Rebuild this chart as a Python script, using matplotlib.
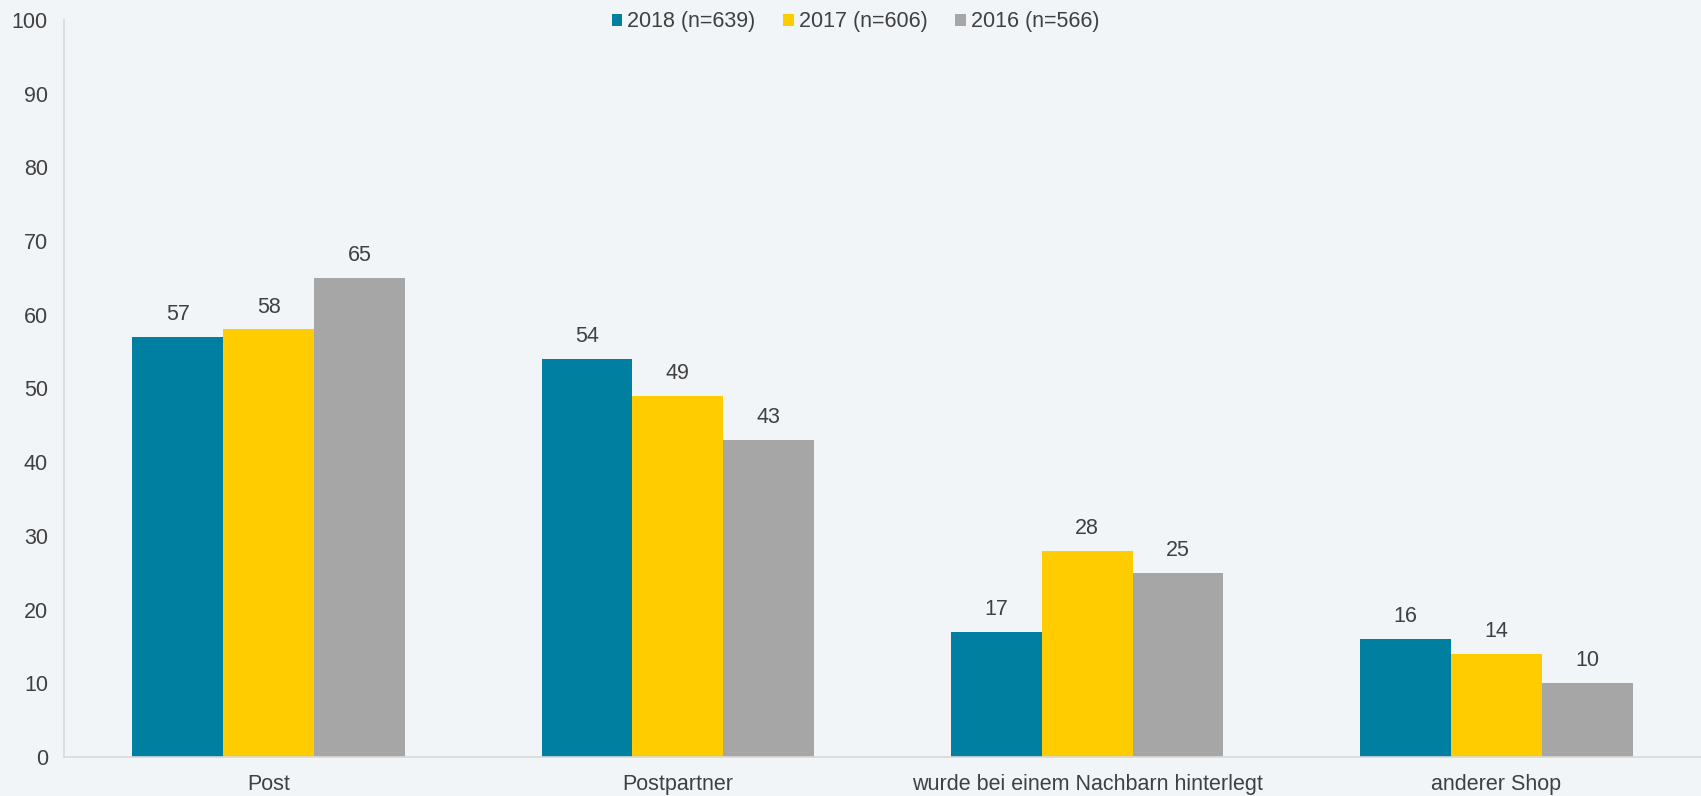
import matplotlib.pyplot as plt
import numpy as np
from matplotlib.patches import Patch

plt.rcParams["font.family"] = ["Liberation Sans", "DejaVu Sans"]

# Zustellort der Pakete, Anteile in Prozent
categories = ["Post", "Postpartner", "wurde bei einem Nachbarn hinterlegt", "anderer Shop"]
series_labels = ["2018 (n=639)", "2017 (n=606)", "2016 (n=566)"]
values_2018 = [57, 54, 17, 16]
values_2017 = [58, 49, 28, 14]
values_2016 = [65, 43, 25, 10]

colors = ["#007FA0", "#FFCC00", "#A6A6A6"]
bg = "#F1F5F8"
text_color = "#404040"
fs = 15.5

fig = plt.figure(figsize=(17.01, 7.96), dpi=100, facecolor=bg)
ax = fig.add_axes([0.0376, 0.049, 0.9624, 0.926], facecolor=bg)

x = np.arange(len(categories))
width = 0.222
series = [values_2018, values_2017, values_2016]

for i, vals in enumerate(series):
    pos = x + (i - 1) * width
    bars = ax.bar(pos, vals, width, color=colors[i], edgecolor="none", zorder=2)
    for b, v in zip(bars, vals):
        ax.annotate(str(v), (b.get_x() + b.get_width() / 2, v),
                    xytext=(0, 8.5), textcoords="offset points",
                    ha="center", va="bottom", fontsize=fs, color=text_color)

ax.set_xlim(-0.5, len(categories) - 0.5)
ax.set_ylim(0, 100)
ax.set_yticks(range(0, 101, 10))
ax.set_xticks(x)
ax.set_xticklabels(categories)

ax.tick_params(axis="both", length=0, labelsize=fs, labelcolor=text_color)
ax.tick_params(axis="y", pad=11.5)
ax.tick_params(axis="x", pad=12)

for side in ["top", "right"]:
    ax.spines[side].set_visible(False)
for side in ["left", "bottom"]:
    ax.spines[side].set_color("#D9D9D9")
    ax.spines[side].set_linewidth(1.2)

handles = [Patch(facecolor=c, edgecolor="none") for c in colors]
fig.legend(handles, series_labels, loc="upper center", bbox_to_anchor=(0.503, 1.01),
           ncol=3, frameon=False, fontsize=fs, labelcolor=text_color,
           handlelength=0.5, handleheight=0.5, handletextpad=0.23, columnspacing=1.28)

fig.savefig("out.png", dpi=100, facecolor=bg)
